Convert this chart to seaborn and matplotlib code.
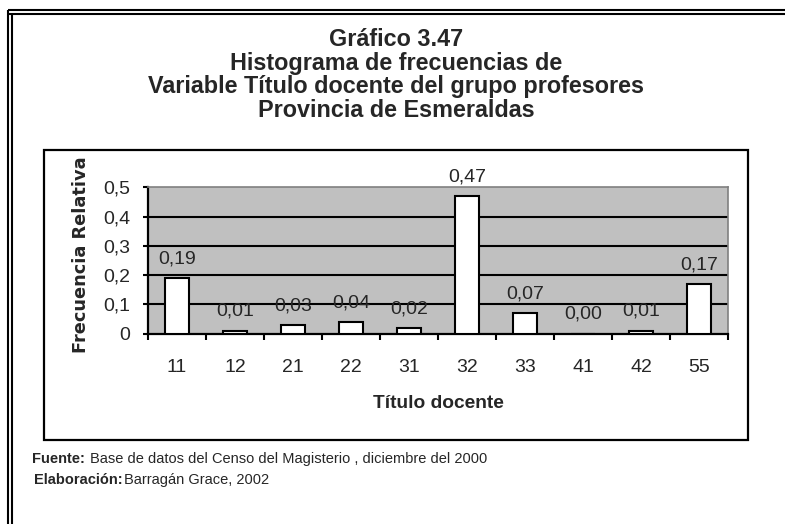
import matplotlib
matplotlib.use("Agg")
import matplotlib.pyplot as plt
import matplotlib.font_manager as fm
from matplotlib.lines import Line2D
from matplotlib.patches import Rectangle
from matplotlib.ticker import FixedLocator, FuncFormatter
from matplotlib.transforms import Bbox, TransformedBbox
import pandas as pd
import seaborn as sns

# ---- data -------------------------------------------------------------
categorias = ["11", "12", "21", "22", "31", "32", "33", "41", "42", "55"]
frecuencia_relativa = [0.19, 0.01, 0.03, 0.04, 0.02, 0.47, 0.07, 0.00, 0.01, 0.17]
y_ticks = [0.0, 0.1, 0.2, 0.3, 0.4, 0.5]

titulo = [
    "Gráfico 3.47",
    "Histograma de frecuencias de",
    "Variable Título docente del grupo profesores",
    "Provincia de Esmeraldas",
]
eje_x = "Título docente"
eje_y = "Frecuencia Relativa"
fuente = ("Fuente:", "Base de datos del Censo del Magisterio , diciembre del 2000")
elaboracion = ("Elaboración:", "Barragán Grace, 2002")

df = pd.DataFrame({"titulo": categorias, "frecuencia": frecuencia_relativa})


def available(*names):
    for n in names:
        try:
            fm.findfont(fm.FontProperties(family=n), fallback_to_default=False)
            return n, True
        except ValueError:
            pass
    return "Liberation Sans", False


MAIN, _ = available("Liberation Sans", "Arial")
NARROW, is_narrow = available("Liberation Sans Narrow", "Arial Narrow")
WIDE, _ = available("DejaVu Sans")
note_size = 11.7 if is_narrow else 10.5

sns.set_style("white")
plt.rcParams["font.family"] = [MAIN, "DejaVu Sans"]

W, H = 785, 524
fig = plt.figure(figsize=(W / 100, H / 100), dpi=100)
fig.patch.set_facecolor("white")


def fx(x):
    return x / W


def fy(y):
    return 1 - y / H


# ---- frames -----------------------------------------------------------
frame_kw = dict(color="black", lw=1.5, transform=fig.transFigure, solid_capstyle="butt")
for y in (10, 14):
    fig.add_artist(Line2D([fx(8), 1.0], [fy(y), fy(y)], **frame_kw))
for x in (8, 12):
    fig.add_artist(Line2D([fx(x), fx(x)], [fy(10 if x == 8 else 14), 0.0], **frame_kw))

box_l, box_t, box_r, box_b = 44, 150, 748, 440
fig.add_artist(Rectangle((fx(box_l), fy(box_b)), fx(box_r - box_l), (box_b - box_t) / H,
                         transform=fig.transFigure, fill=False, edgecolor="black", lw=1.6))

# ---- title ------------------------------------------------------------
for line, base in zip(titulo, (46.5, 70, 93.5, 117)):
    fig.text(fx(396), fy(base), line, ha="center", va="baseline",
             fontsize=16.8, fontweight="bold")

# ---- plot area --------------------------------------------------------
px_l, px_r, px_t, px_b = 148, 728, 187.5, 333.5
ax = fig.add_axes([fx(px_l), fy(px_b), (px_r - px_l) / W, (px_b - px_t) / H])
ax.set_facecolor("#C0C0C0")

sns.barplot(data=df, x="titulo", y="frecuencia", color="white", saturation=1,
            edgecolor="black", linewidth=1.5, width=0.42, ax=ax, zorder=3)

ax.set_ylim(0, 0.5)
ax.set_xlim(-0.5, len(categorias) - 0.5)

for t in y_ticks[1:-1]:
    ax.axhline(t, color="black", lw=1.5, zorder=1)

for i, v in enumerate(frecuencia_relativa):
    ax.annotate(f"{v:.2f}".replace(".", ","), (i, v), xytext=(0, 10.5),
                textcoords="offset points", ha="center", va="baseline",
                fontsize=14, zorder=4)

for side in ("top", "right"):
    ax.spines[side].set_color("#808080")
    ax.spines[side].set_linewidth(1.2)
for side in ("left", "bottom"):
    ax.spines[side].set_color("black")
    ax.spines[side].set_linewidth(1.6)

ax.yaxis.set_major_locator(FixedLocator(y_ticks))
ax.yaxis.set_major_formatter(FuncFormatter(
    lambda v, _: "0" if abs(v) < 1e-9 else f"{v:.1f}".replace(".", ",")))
ax.tick_params(axis="y", which="major", direction="out", length=3.6, width=1.5,
               pad=9.0, labelsize=14, left=True, color="black")

ax.xaxis.set_minor_locator(FixedLocator([i - 0.5 for i in range(len(categorias) + 1)]))
ax.tick_params(axis="x", which="major", length=0, pad=18, labelsize=14)
ax.tick_params(axis="x", which="minor", direction="out", length=4.3, width=1.5,
               bottom=True, color="black")

ax.set_xlabel(eje_x, fontsize=13.8, fontweight="bold")
ax.xaxis.set_label_coords(0.5, (H - 407.7 - (H - px_b)) / (px_b - px_t))
ax.xaxis.label.set_verticalalignment("baseline")

ax.set_ylabel(eje_y, fontsize=12.8, fontweight="bold", family=[WIDE])
ax.yaxis.set_label_coords((86 - px_l) / (px_r - px_l), (px_b - 353) / (px_b - px_t))
ylab = ax.yaxis.label
ylab.set_rotation_mode("anchor")
ylab.set_horizontalalignment("left")
ylab.set_verticalalignment("baseline")
clip = TransformedBbox(Bbox.from_extents(fx(box_l), fy(box_b), fx(box_r), fy(158)),
                       fig.transFigure)
ylab.set_clip_box(clip)
ylab.set_clip_on(True)

# ---- source notes -----------------------------------------------------
for (bold, rest), (x0, base, gap) in zip((fuente, elaboracion),
                                         ((32, 463, 5), (34, 484, 1))):
    t1 = fig.text(fx(x0), fy(base), bold, ha="left", va="baseline",
                  fontsize=note_size, fontweight="bold", family=[NARROW, "DejaVu Sans"])
    ax.annotate(rest, xy=(1, 0), xycoords=t1, xytext=(gap, 0),
                textcoords="offset pixels", ha="left", va="bottom",
                fontsize=note_size, family=[NARROW, "DejaVu Sans"], annotation_clip=False)

fig.savefig("out.png", dpi=100, facecolor="white")
